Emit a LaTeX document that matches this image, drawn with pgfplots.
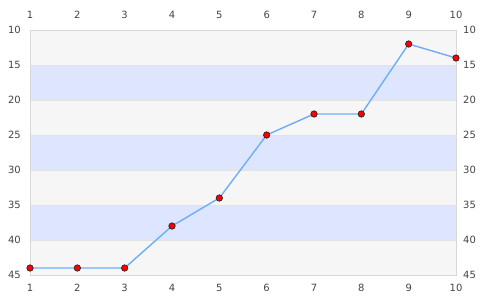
\documentclass[border=0pt]{standalone}
\usepackage{fontspec}
\setmainfont{DejaVu Sans}
\usepackage{pgfplots}
\pgfplotsset{compat=1.18}
\definecolor{bandgray}{HTML}{F6F6F6}
\definecolor{bandblue}{HTML}{DDE5FF}
\definecolor{linecol}{HTML}{6EAEF7}
\definecolor{labcol}{HTML}{444444}
\definecolor{bordercol}{HTML}{D8D8D8}
\definecolor{gridcol}{HTML}{E2E2E2}
\begin{document}
\begin{tikzpicture}[x=1bp,y=1bp]
\pgfplotsset{
  common/.style={
    width=426bp, height=245bp, scale only axis,
    xmin=1, xmax=10, ymin=10, ymax=45, y dir=reverse,
    xtick={1,...,10}, ytick={10,15,...,45},
    major tick length=0pt,
    tick label style={font=\fontsize{10}{12}\selectfont, text=labcol, inner sep=0pt},
    /pgf/number format/assume math mode=true,
    axis line style={bordercol},
    clip=false,
  }
}
\begin{axis}[common,
  xticklabel pos=right, yticklabel pos=right,
  xticklabel style={yshift=11bp},
  yticklabel style={xshift=7bp},
]
\fill[bandgray] (axis cs:1,10) rectangle (axis cs:10,45);
\fill[bandblue] (axis cs:1,15) rectangle (axis cs:10,20);
\fill[bandblue] (axis cs:1,25) rectangle (axis cs:10,30);
\fill[bandblue] (axis cs:1,35) rectangle (axis cs:10,40);
\foreach \yy in {15,20,...,40} {
  \edef\temp{\noexpand\draw[gridcol, line width=0.8bp] (axis cs:1,\yy) -- (axis cs:10,\yy);}
  \temp
}
\end{axis}
\begin{axis}[common,
  xticklabel style={yshift=-9bp},
  yticklabel style={xshift=-9bp},
]
\addplot[color=linecol, line width=1.4bp, mark=*, mark size=3.2bp,
  mark options={fill=red, draw=black!85, line width=0.7bp}]
  coordinates {(1,44) (2,44) (3,44) (4,38) (5,34) (6,25) (7,22) (8,22) (9,12) (10,14)};
\end{axis}
\pgfresetboundingbox
\path ([shift={(-30bp,-25bp)}]current axis.south west) rectangle ([shift={(29bp,30bp)}]current axis.north east);
\end{tikzpicture}
\end{document}
